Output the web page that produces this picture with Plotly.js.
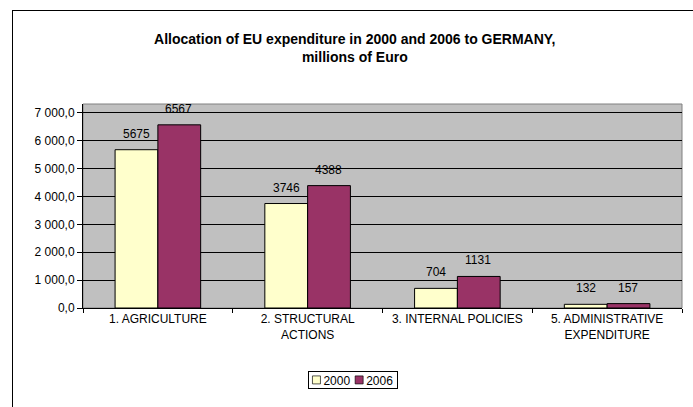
<!DOCTYPE html>
<html>
<head>
<meta charset="utf-8">
<script src="https://cdn.plot.ly/plotly-3.0.1.min.js"></script>
<style>
html,body{margin:0;padding:0;background:#fff;}
#chart{width:693px;height:407px;position:absolute;left:0;top:0;}
#frame{position:absolute;left:12px;top:10px;width:700px;height:420px;border:1px solid #000;pointer-events:none;box-sizing:border-box;}
</style>
</head>
<body>
<div id="chart"></div>
<div id="frame"></div>
<script>
const categories = ["1. AGRICULTURE", "2. STRUCTURAL ACTIONS", "3. INTERNAL POLICIES", "5. ADMINISTRATIVE EXPENDITURE"];
const categoryLabels = ["1. AGRICULTURE", "2. STRUCTURAL<br>ACTIONS", "3. INTERNAL POLICIES", "5. ADMINISTRATIVE<br>EXPENDITURE"];
const values2000 = [5675, 3746, 704, 132];
const values2006 = [6567, 4388, 1131, 157];
const seriesNames = ["2000", "2006"];
const yTickVals = [0, 1000, 2000, 3000, 4000, 5000, 6000, 7000];
const yTickText = ["0,0", "1 000,0", "2 000,0", "3 000,0", "4 000,0", "5 000,0", "6 000,0", "7 000,0"];

const FONT = "Liberation Sans, Arial, sans-serif";
const colors = ["#FFFFCC", "#993366"];
const seriesValues = [values2000, values2006];

const traces = seriesValues.map((vals, i) => ({
  type: "bar",
  name: seriesNames[i],
  x: categories,
  y: vals,
  marker: {color: colors[i], line: {color: "#000", width: 1}},
  hoverinfo: "none"
}));

const annotations = [];
seriesValues.forEach((vals, i) => {
  vals.forEach((v, j) => {
    annotations.push({
      x: categories[j], y: v, xref: "x", yref: "y",
      text: String(v), showarrow: false,
      xshift: i === 0 ? -21 : 21, yshift: 16,
      yanchor: "middle",
      font: {family: FONT, size: 12, color: "#000"}
    });
  });
});

const layout = {
  width: 693, height: 407,
  margin: {l: 83, r: 11, t: 104, b: 93},
  paper_bgcolor: "#fff",
  plot_bgcolor: "#C0C0C0",
  barmode: "group",
  bargap: 0.4286,
  bargroupgap: 0,
  font: {family: FONT, size: 12, color: "#000"},
  title: {
    text: "<b>Allocation of EU expenditure in 2000 and 2006 to GERMANY,<br>millions of Euro</b>",
    font: {family: FONT, size: 14, color: "#000"},
    x: 0.512, xanchor: "center",
    y: 1 - 44/407, yanchor: "middle", yref: "container"
  },
  xaxis: {
    type: "category",
    tickvals: categories,
    ticktext: categoryLabels,
    tickson: "boundaries",
    ticks: "outside", ticklen: 4, tickcolor: "#000", tickwidth: 1,
    showline: true, linecolor: "#000", linewidth: 1,
    showgrid: false,
    tickfont: {family: FONT, size: 12, color: "#000"},
    fixedrange: true
  },
  yaxis: {
    range: [0, 7314],
    tickvals: yTickVals,
    ticktext: yTickText,
    ticks: "outside", ticklen: 5, tickcolor: "#000", tickwidth: 1,
    showline: true, linecolor: "#000", linewidth: 1,
    showgrid: true, gridcolor: "#000", gridwidth: 1,
    zeroline: false,
    tickfont: {family: FONT, size: 12, color: "#000"},
    fixedrange: true
  },
  shapes: [{
    type: "rect", xref: "paper", yref: "paper",
    x0: 0, x1: 1, y0: 0, y1: 1,
    line: {color: "#808080", width: 1}, layer: "below"
  }],
  showlegend: true,
  legend: {
    orientation: "h",
    x: 0.451, xanchor: "center",
    y: -0.355, yanchor: "middle",
    bordercolor: "#000", borderwidth: 1, bgcolor: "#fff",
    font: {family: FONT, size: 12, color: "#000"},
    itemwidth: 30,
    tracegroupgap: 0
  },
  annotations: annotations
};

// Compact the legend into the small boxed style of the original chart.
function compactLegend(gd) {
  try {
    const leg = gd.querySelector("g.legend");
    if (!leg) return;
    const bg = leg.querySelector("rect.bg");
    const oldW = parseFloat(bg.getAttribute("width"));
    const oldH = parseFloat(bg.getAttribute("height"));
    const newH = 17, symSize = 8, pad = 3, gapAfterSym = 3, gapAfterText = 4;
    let x = pad;
    const items = Array.from(leg.querySelectorAll("g.traces"));
    items.forEach(t => {
      const txt = t.querySelector("text.legendtext");
      const layers = t.querySelector("g.layers") || t.querySelector("g.legendpoints");
      const txtX = parseFloat(txt.getAttribute("x")) || 40;
      const txtRect = txt.getBoundingClientRect();
      const originX = txtRect.left - txtX;
      const sym = t.querySelector("g.legendpoints path") || t.querySelector("path");
      const sRect = sym.getBoundingClientRect();
      const localC = (sRect.left + sRect.right) / 2 - originX;
      const s = symSize / Math.max(1, sRect.width);
      layers.setAttribute("transform", "translate(" + (symSize / 2 + 1) + ",0) scale(" + s + ") translate(" + (-localC) + ",0)");
      const tx = symSize + 1 + gapAfterSym;
      txt.setAttribute("x", tx);
      const tspans = txt.querySelectorAll("tspan");
      tspans.forEach(ts => { if (ts.hasAttribute("x")) ts.setAttribute("x", tx); });
      const tog = t.querySelector("rect.legendtoggle");
      t.setAttribute("transform", "translate(" + x + "," + (newH / 2) + ")");
      const tw = txt.getComputedTextLength();
      if (tog) { tog.setAttribute("x", 0); tog.setAttribute("width", tx + tw); }
      x += tx + tw + gapAfterText;
    });
    const newW = x - gapAfterText + pad + 1;
    bg.setAttribute("width", newW);
    bg.setAttribute("height", newH);
    const tr = leg.getAttribute("transform") || "";
    const m = /translate\(\s*([-\d.e]+)[\s,]+([-\d.e]+)\s*\)/.exec(tr);
    if (m) {
      const lx = parseFloat(m[1]) + (oldW - newW) / 2;
      const ly = parseFloat(m[2]) + (oldH - newH) / 2;
      leg.setAttribute("transform", "translate(" + lx + "," + ly + ")");
    }
    const sb = leg.querySelector("g.scrollbox");
    if (sb) sb.removeAttribute("clip-path");
  } catch (e) { console.log(e); }
}

Plotly.newPlot("chart", traces, layout, {staticPlot: true, displayModeBar: false}).then(compactLegend);
</script>
</body>
</html>
